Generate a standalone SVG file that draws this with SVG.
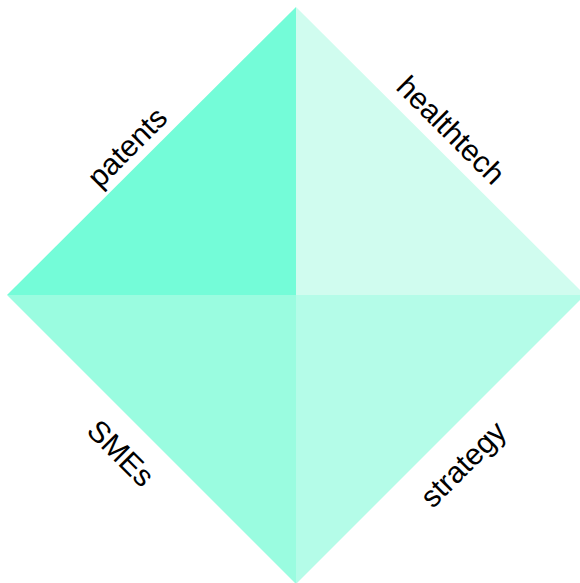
<svg xmlns="http://www.w3.org/2000/svg" width="580" height="583" viewBox="0 0 580 583">
<style>
.lbl{font-family:"Liberation Sans",Arial,sans-serif;font-size:30px;fill:#000;text-anchor:middle;dominant-baseline:central}
</style>
<rect width="580" height="583" fill="#fff"/>
<g id="patents">
<polygon points="296,7 296,295 7,295" fill="#74fcd8"/>
<text class="lbl" transform="translate(127,147) rotate(-45)">patents</text>
</g>
<g id="healthtech">
<polygon points="296,7 585,295 296,295" fill="#d0fcef"/>
<text class="lbl" transform="translate(451,130) rotate(45)">healthtech</text>
</g>
<g id="SMEs">
<polygon points="7,295 296,295 296,584" fill="#9afce0"/>
<text class="lbl" transform="translate(121,453) rotate(45)">SMEs</text>
</g>
<g id="strategy">
<polygon points="296,295 585,295 296,584" fill="#b4fce8"/>
<text class="lbl" transform="translate(463,464) rotate(-45)">strategy</text>
</g>
<g id="connectors"></g>
</svg>
